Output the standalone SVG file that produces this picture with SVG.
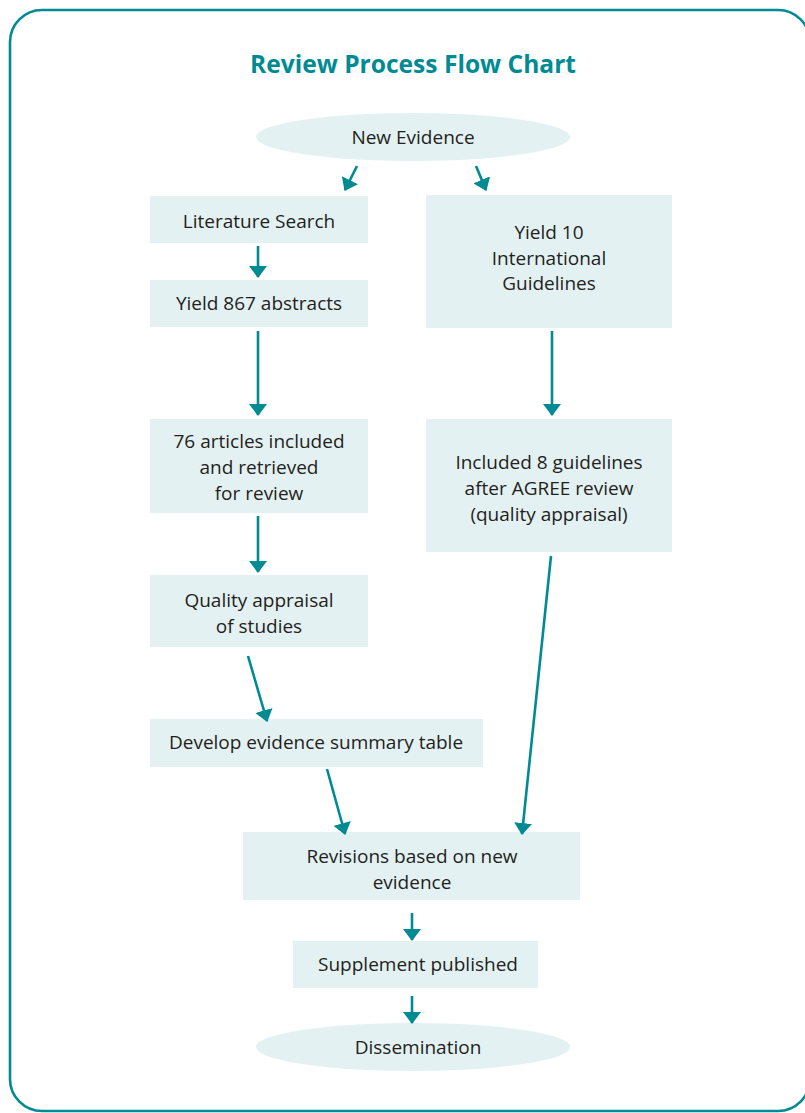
<svg xmlns="http://www.w3.org/2000/svg" width="805" height="1113" viewBox="0 0 805 1113">
  <style>
    .box { fill: #e3f1f2; }
    .lbl { font-family: "Open Sans", "Noto Sans", sans-serif; font-size: 19px; fill: #231f20; text-anchor: middle; }
    .title { font-family: "Open Sans", "Noto Sans", sans-serif; font-size: 25px; font-weight: bold; fill: #008b94; text-anchor: middle; }
    .conn { stroke: #008b94; stroke-width: 2.6; fill: none; marker-end: url(#arr); }
  </style>
  <defs>
    <marker id="arr" viewBox="0 0 12 18" refX="11" refY="9" markerWidth="12" markerHeight="18" markerUnits="userSpaceOnUse" orient="auto">
      <path d="M0,0 L12,9 L0,18 Z" fill="#008b94"/>
    </marker>
  </defs>
  <rect x="10" y="10" width="800" height="1101" rx="32" fill="#ffffff" stroke="#008b94" stroke-width="2.6"/>
  <text class="title" x="413" y="73" textLength="326" lengthAdjust="spacingAndGlyphs">Review Process Flow Chart</text>

  <g id="new-evidence">
    <ellipse class="box" cx="413" cy="137" rx="157" ry="24"/>
    <text class="lbl" x="413" y="144">New Evidence</text>
  </g>
  <g id="literature-search">
    <rect class="box" x="150" y="196" width="218" height="47"/>
    <text class="lbl" x="259" y="228">Literature Search</text>
  </g>
  <g id="yield-867">
    <rect class="box" x="150" y="280" width="218" height="47"/>
    <text class="lbl" x="259" y="310">Yield 867 abstracts</text>
  </g>
  <g id="yield-10">
    <rect class="box" x="426" y="195" width="246" height="133"/>
    <text class="lbl" x="549" y="239">Yield 10</text>
    <text class="lbl" x="549" y="265">International</text>
    <text class="lbl" x="549" y="290">Guidelines</text>
  </g>
  <g id="articles-76">
    <rect class="box" x="150" y="419" width="218" height="94"/>
    <text class="lbl" x="259" y="448">76 articles included</text>
    <text class="lbl" x="259" y="474">and retrieved</text>
    <text class="lbl" x="259" y="500">for review</text>
  </g>
  <g id="included-8">
    <rect class="box" x="426" y="419" width="246" height="133"/>
    <text class="lbl" x="549" y="469">Included 8 guidelines</text>
    <text class="lbl" x="549" y="495">after AGREE review</text>
    <text class="lbl" x="549" y="521">(quality appraisal)</text>
  </g>
  <g id="quality-appraisal">
    <rect class="box" x="150" y="575" width="218" height="72"/>
    <text class="lbl" x="259" y="607">Quality appraisal</text>
    <text class="lbl" x="259" y="633">of studies</text>
  </g>
  <g id="evidence-table">
    <rect class="box" x="150" y="719" width="333" height="48"/>
    <text class="lbl" x="316" y="749">Develop evidence summary table</text>
  </g>
  <g id="revisions">
    <rect class="box" x="243" y="832" width="337" height="68"/>
    <text class="lbl" x="412" y="863">Revisions based on new</text>
    <text class="lbl" x="412" y="889">evidence</text>
  </g>
  <g id="supplement">
    <rect class="box" x="293" y="941" width="245" height="47"/>
    <text class="lbl" x="418" y="971">Supplement published</text>
  </g>
  <g id="dissemination">
    <ellipse class="box" cx="413" cy="1047" rx="157" ry="24"/>
    <text class="lbl" x="418" y="1054">Dissemination</text>
  </g>

  <g id="connectors">
    <line class="conn" x1="357" y1="166" x2="345" y2="190"/>
    <line class="conn" x1="476" y1="166" x2="486" y2="190"/>
    <line class="conn" x1="258" y1="246" x2="258" y2="277"/>
    <line class="conn" x1="258" y1="331" x2="258" y2="415"/>
    <line class="conn" x1="258" y1="516" x2="258" y2="572"/>
    <line class="conn" x1="552" y1="331" x2="552" y2="415"/>
    <line class="conn" x1="248" y1="656" x2="267" y2="721"/>
    <line class="conn" x1="327" y1="769" x2="345" y2="834"/>
    <line class="conn" x1="551" y1="556" x2="522" y2="834"/>
    <line class="conn" x1="412" y1="913" x2="412" y2="940"/>
    <line class="conn" x1="412" y1="996" x2="412" y2="1023"/>
  </g>
</svg>
